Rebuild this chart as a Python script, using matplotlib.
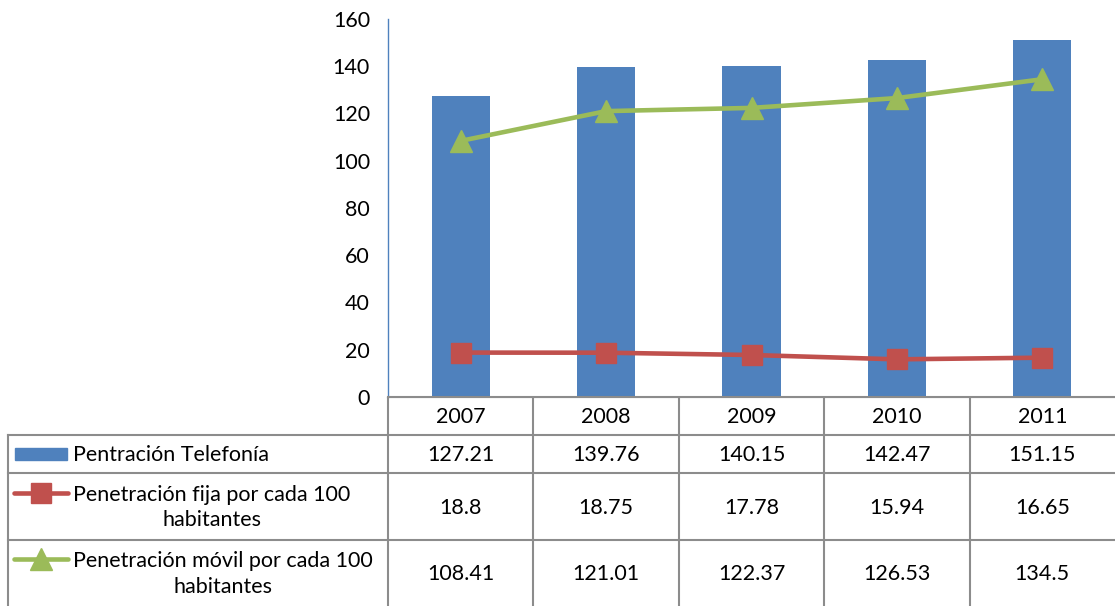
import matplotlib

matplotlib.use("Agg")
import matplotlib.pyplot as plt
from matplotlib.lines import Line2D
from matplotlib.patches import Rectangle

plt.rcParams["font.family"] = ["Lato", "DejaVu Sans"]

years = ["2007", "2008", "2009", "2010", "2011"]
telefonia = [127.21, 139.76, 140.15, 142.47, 151.15]
fija = [18.8, 18.75, 17.78, 15.94, 16.65]
movil = [108.41, 121.01, 122.37, 126.53, 134.5]
row_labels = [
    "Pentración Telefonía",
    "Penetración fija por cada 100\nhabitantes",
    "Penetración móvil por cada 100\nhabitantes",
]
row_values = [
    ["127.21", "139.76", "140.15", "142.47", "151.15"],
    ["18.8", "18.75", "17.78", "15.94", "16.65"],
    ["108.41", "121.01", "122.37", "126.53", "134.5"],
]

BLUE, RED, GREEN, GRID = "#4F81BD", "#C0504D", "#9BBB59", "#8C8C8C"
W, H = 1115, 606
FS = 15.5

fig = plt.figure(figsize=(W / 100, H / 100), dpi=100)

# main chart area (pixel layout of the reference)
x0, x1, ytop, ybot = 388, 1115, 19, 397
ax = fig.add_axes([x0 / W, 1 - ybot / H, (x1 - x0) / W, (ybot - ytop) / H])
xs = range(len(years))
ax.bar(xs, telefonia, width=0.4, color=BLUE, zorder=2)
ax.plot(xs, fija, color=RED, lw=3.3, marker="s", ms=14, zorder=3)
ax.plot(xs, movil, color=GREEN, lw=3.3, marker="^", ms=16, zorder=3)
ax.set_xlim(-0.5, len(years) - 0.5)
ax.set_ylim(0, 160)
ax.set_yticks(range(0, 161, 20))
ax.tick_params(axis="y", length=0, labelsize=FS, pad=13)
ax.set_xticks([])
for s in ("top", "right"):
    ax.spines[s].set_visible(False)
ax.spines["left"].set_color(BLUE)
ax.spines["left"].set_linewidth(1)
ax.spines["bottom"].set_color(GRID)
ax.spines["bottom"].set_linewidth(1.5)

# data table drawn below the chart
tab = fig.add_axes([0, 0, 1, 1 - ybot / H])
tab.set_xlim(0, W)
tab.set_ylim(H, ybot)
tab.axis("off")

left = 8
col_w = (x1 - x0) / len(years)
rows = [397, 435, 473, 540, 606]
lkw = dict(color=GRID, lw=1.5)

for y in rows[:-1]:
    xa = x0 if y == rows[0] else left
    tab.plot([xa, x1], [y, y], **lkw)
tab.plot([left, left], [rows[1], H], **lkw)
for i in range(len(years)):
    xv = x0 + i * col_w
    tab.plot([xv, xv], [rows[0], H], **lkw)
    tab.text(xv + col_w / 2, (rows[0] + rows[1]) / 2 + 1, years[i],
             ha="center", va="center", fontsize=FS)
    for r in range(3):
        tab.text(xv + col_w / 2, (rows[r + 1] + rows[r + 2]) / 2 + 1,
                 row_values[r][i], ha="center", va="center", fontsize=FS)

for r, label in enumerate(row_labels):
    yc = (rows[r + 1] + rows[r + 2]) / 2 + 1
    tab.text(73, yc, label, ha="left", va="center", multialignment="center",
             fontsize=FS, linespacing=1.35)

# legend keys
y1 = (rows[1] + rows[2]) / 2
tab.add_patch(Rectangle((15, y1 - 6), 52, 12, color=BLUE))
y2 = (rows[2] + rows[3]) / 2 - 14
tab.add_line(Line2D([14, 41, 68], [y2, y2, y2], color=RED, lw=3.3, marker="s",
                    ms=14, markevery=[1], solid_capstyle="round"))
y3 = (rows[3] + rows[4]) / 2 - 14
tab.add_line(Line2D([14, 41, 68], [y3, y3, y3], color=GREEN, lw=3.3, marker="^",
                    ms=16, markevery=[1], solid_capstyle="round"))

fig.savefig("out.png", dpi=100)
